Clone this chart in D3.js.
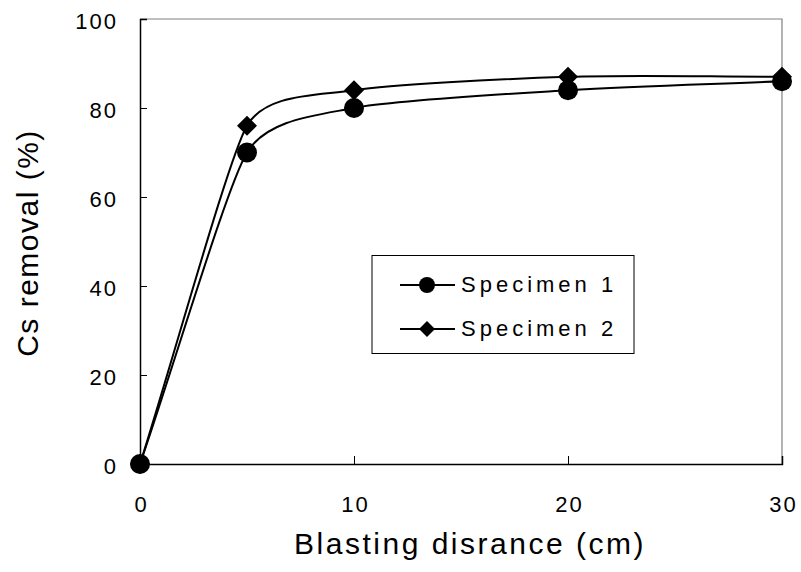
<!DOCTYPE html>
<html>
<head>
<meta charset="utf-8">
<script src="https://cdn.jsdelivr.net/npm/d3@7"></script>
<style>
  html, body { margin: 0; padding: 0; background: #fff; }
  svg { display: block; font-family: "Liberation Sans", Arial, sans-serif; }
</style>
</head>
<body>
<svg id="chart" width="801" height="572"></svg>
<script>
// ---- data ----
const distances = [0, 5, 10, 20, 30];
const specimen1 = [0, 70, 80, 84, 86];
const specimen2 = [0, 76, 84, 87, 87];
const seriesNames = ["Specimen 1", "Specimen 2"];
const xTicks = [0, 10, 20, 30];
const yTicks = [0, 20, 40, 60, 80, 100];
const xTitle = "Blasting disrance (cm)";
const yTitle = "Cs removal (%)";

const series = [
  { name: seriesNames[0], values: specimen1, marker: "circle" },
  { name: seriesNames[1], values: specimen2, marker: "diamond" }
];

// ---- layout ----
const svg = d3.select("#chart");
const L = 140, R = 782, T = 19, B = 464;
const x = d3.scaleLinear().domain([0, 30]).range([L, R]);
const y = d3.scaleLinear().domain([0, 100]).range([B, T]);

// Excel-like smoothing curve (tangent length limited by shorter neighbouring segment)
function excelCurve(context) {
  let pts = [];
  return {
    areaStart() {}, areaEnd() {},
    lineStart() { pts = []; },
    point(px, py) { pts.push([+px, +py]); },
    lineEnd() {
      const n = pts.length;
      if (!n) return;
      const dist = (a, b) => Math.hypot(b[0] - a[0], b[1] - a[1]);
      const f = 1 / 3;
      // tangent unit vector and handle length at each point
      const tang = pts.map((p, i) => {
        const a = pts[Math.max(i - 1, 0)], b = pts[Math.min(i + 1, n - 1)];
        const tx = b[0] - a[0], ty = b[1] - a[1];
        const tl = Math.hypot(tx, ty) || 1;
        const dPrev = i > 0 ? dist(pts[i - 1], p) : Infinity;
        const dNext = i < n - 1 ? dist(p, pts[i + 1]) : Infinity;
        const h = f * Math.min(dPrev, dNext);
        return [tx / tl, ty / tl, h];
      });
      context.moveTo(pts[0][0], pts[0][1]);
      for (let i = 0; i < n - 1; i++) {
        const p1 = pts[i], p2 = pts[i + 1];
        const t1 = tang[i], t2 = tang[i + 1];
        const c1 = [p1[0] + t1[0] * t1[2], p1[1] + t1[1] * t1[2]];
        const c2 = [p2[0] - t2[0] * t2[2], p2[1] - t2[1] * t2[2]];
        context.bezierCurveTo(c1[0], c1[1], c2[0], c2[1], p2[0], p2[1]);
      }
    }
  };
}

// plot frame (top & right grey)
svg.append("path")
  .attr("d", `M${L},${T}H${R}V${B}`)
  .attr("fill", "none").attr("stroke", "#808080").attr("stroke-width", 1.2);

// axes
const yAxis = d3.axisLeft(y).tickValues(yTicks).tickSize(-7).tickPadding(22).tickFormat(d3.format("d"));
const gy = svg.append("g").attr("transform", `translate(${L},0)`).call(yAxis);
const xAxis = d3.axisBottom(x).tickValues(xTicks).tickSize(-8).tickPadding(32).tickFormat(d3.format("d"));
const gx = svg.append("g").attr("transform", `translate(0,${B})`).call(xAxis);

[gy, gx].forEach(g => {
  g.select(".domain").attr("stroke", "#000").attr("stroke-width", 1.5);
  g.selectAll(".tick line").attr("stroke", "#000").attr("stroke-width", 1);
  g.selectAll(".tick text")
    .attr("font-family", "Liberation Sans, Arial, sans-serif")
    .attr("font-size", 22).attr("fill", "#000")
    .style("letter-spacing", "2px");
});
gy.selectAll(".tick text").attr("dy", "0.42em");
gx.selectAll(".tick text").attr("dx", "1px");
// hide tick marks at axis ends
gx.selectAll(".tick line").filter(d => d === 0 || d === 30).remove();
gy.selectAll(".tick line").filter(d => d === 0 || d === 100).remove();

// lines
const line = d3.line()
  .x((d, i) => x(distances[i]))
  .y(d => y(d))
  .curve(excelCurve);

svg.selectAll("path.series")
  .data(series)
  .join("path")
  .attr("class", "series")
  .attr("d", d => line(d.values))
  .attr("fill", "none").attr("stroke", "#000").attr("stroke-width", 2);

const circleSym = d3.symbol().type(d3.symbolCircle).size(Math.PI * 10 * 10);
function diamondPath(r) {
  return `M0,${-r}L${r},0L0,${r}L${-r},0Z`;
}

series.forEach(s => {
  svg.append("g").selectAll("path")
    .data(s.values)
    .join("path")
    .attr("transform", (d, i) => `translate(${x(distances[i])},${y(d)})`)
    .attr("d", s.marker === "circle" ? circleSym() : diamondPath(10))
    .attr("fill", "#000");
});

// legend
const lg = svg.append("g");
lg.append("rect").attr("x", 372).attr("y", 255.5).attr("width", 262).attr("height", 98)
  .attr("fill", "#fff").attr("stroke", "#000").attr("stroke-width", 1);
series.forEach((s, i) => {
  const cy = 285 + i * 44;
  lg.append("line").attr("x1", 400).attr("x2", 455).attr("y1", cy).attr("y2", cy)
    .attr("stroke", "#000").attr("stroke-width", 2);
  lg.append("path").attr("transform", `translate(427,${cy})`)
    .attr("d", s.marker === "circle" ? d3.symbol().type(d3.symbolCircle).size(Math.PI * 8 * 8)() : diamondPath(8))
    .attr("fill", "#000");
  lg.append("text").attr("x", 461).attr("y", cy + 7)
    .attr("font-size", 22).style("letter-spacing", "4px")
    .text(s.name);
});

// axis titles
svg.append("text").attr("x", 470).attr("y", 554).attr("text-anchor", "middle")
  .attr("font-size", 30).style("letter-spacing", "2.5px").text(xTitle);
svg.append("text").attr("transform", "translate(38,243) rotate(-90)").attr("text-anchor", "middle")
  .attr("font-size", 30).style("letter-spacing", "1.5px").text(yTitle);
</script>
</body>
</html>
